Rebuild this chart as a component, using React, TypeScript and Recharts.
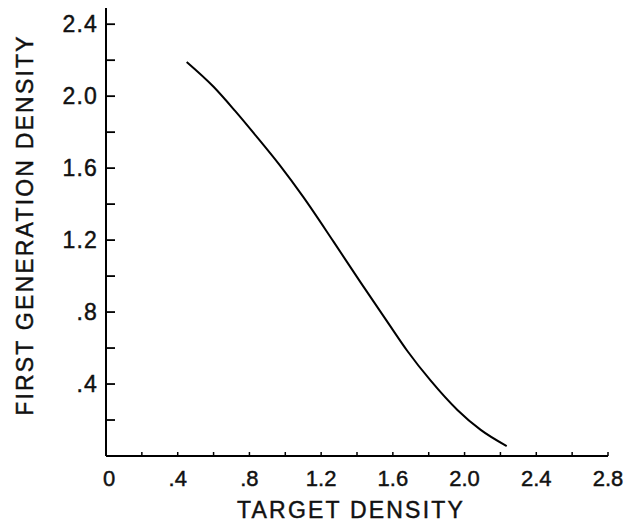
import React from 'react';
import { LineChart, Line, XAxis, YAxis, Label } from 'recharts';

const targetDensity = [0.45, 0.6, 0.72, 0.84, 0.97, 1.1, 1.27, 1.42, 1.58, 1.68, 1.81, 1.96, 2.09, 2.235];
const firstGenerationDensity = [2.19, 2.052, 1.918, 1.775, 1.615, 1.44, 1.19, 0.965, 0.73, 0.585, 0.42, 0.256, 0.145, 0.055];

const xTicks = [0, 0.2, 0.4, 0.6, 0.8, 1.0, 1.2, 1.4, 1.6, 1.8, 2.0, 2.2, 2.4, 2.6, 2.8];
const xTickLabels = ['0', '', '.4', '', '.8', '', '1.2', '', '1.6', '', '2.0', '', '2.4', '', '2.8'];
const yTicks = [0.2, 0.4, 0.6, 0.8, 1.0, 1.2, 1.4, 1.6, 1.8, 2.0, 2.2, 2.4];
const yTickLabels = ['', '.4', '', '.8', '', '1.2', '', '1.6', '', '2.0', '', '2.4'];

const data = targetDensity.map((x, i) => ({ x, y: firstGenerationDensity[i] }));

const FONT = '"Liberation Sans", Arial, Helvetica, sans-serif';
const TEXT_STYLE = { fill: '#111', stroke: '#111', strokeWidth: 0.45 };

const findIdx = (arr: number[], v: number) => arr.findIndex((t) => Math.abs(t - v) < 1e-6);

const XTick = (props: any) => {
  const { x, y, payload } = props;
  const i = findIdx(xTicks, payload.value);
  const label = i >= 0 ? xTickLabels[i] : '';
  return (
    <g>
      {payload.value > 0 && <line x1={x} y1={y} x2={x} y2={y - 4} stroke="#000" strokeWidth={1.5} />}
      {label && (
        <text x={x + (payload.value === 0 ? 3 : 0)} y={y + 30} textAnchor="middle" fontFamily={FONT} fontSize={22} {...TEXT_STYLE}>
          {label}
        </text>
      )}
    </g>
  );
};

const YTick = (props: any) => {
  const { x, y, payload } = props;
  const i = findIdx(yTicks, payload.value);
  const label = i >= 0 ? yTickLabels[i] : '';
  return (
    <g>
      <line x1={x} y1={y} x2={x + 9} y2={y} stroke="#000" strokeWidth={1.8} />
      {label && (
        <text x={x - 8} y={y} dy="0.36em" textAnchor="end" fontFamily={FONT} fontSize={23} letterSpacing={1.2} {...TEXT_STYLE}>
          {label}
        </text>
      )}
    </g>
  );
};

const XTitle = (props: any) => {
  const vb = props.viewBox || {};
  const cx = vb.x + vb.width / 2 - 6;
  const by = vb.y + vb.height - 9;
  return (
    <text x={cx} y={by} textAnchor="middle" fontFamily={FONT} fontSize={23} letterSpacing={2.2} {...TEXT_STYLE}>
      TARGET DENSITY
    </text>
  );
};

const YTitle = (props: any) => {
  const vb = props.viewBox || {};
  const cx = vb.x + 25;
  const cy = vb.y + vb.height / 2 - 7;
  return (
    <text
      x={cx}
      y={cy}
      dy="0.36em"
      textAnchor="middle"
      transform={`rotate(-90 ${cx} ${cy})`}
      fontFamily={FONT}
      fontSize={23}
      letterSpacing={2.2}
      {...TEXT_STYLE}
    >
      FIRST GENERATION DENSITY
    </text>
  );
};

export default function App() {
  return (
    <div style={{ position: 'absolute', left: 0, top: 0, width: 628, height: 527, background: '#fff' }}>
      <LineChart width={628} height={527} data={data} margin={{ top: 8, right: 20, left: 0, bottom: 0 }}>
        <XAxis
          dataKey="x"
          type="number"
          domain={[0, 2.8]}
          ticks={xTicks}
          interval={0}
          height={71}
          tickSize={0}
          tickMargin={0}
          tickLine={false}
          axisLine={{ stroke: '#000', strokeWidth: 2 }}
          tick={<XTick />}
        >
          <Label content={<XTitle />} />
        </XAxis>
        <YAxis
          dataKey="y"
          type="number"
          domain={[0, 2.49]}
          ticks={yTicks}
          interval={0}
          width={106}
          tickSize={0}
          tickMargin={0}
          tickLine={false}
          axisLine={{ stroke: '#000', strokeWidth: 2 }}
          tick={<YTick />}
        >
          <Label content={<YTitle />} />
        </YAxis>
        <Line
          type="monotone"
          dataKey="y"
          stroke="#000"
          strokeWidth={2}
          dot={false}
          isAnimationActive={false}
        />
      </LineChart>
    </div>
  );
}
